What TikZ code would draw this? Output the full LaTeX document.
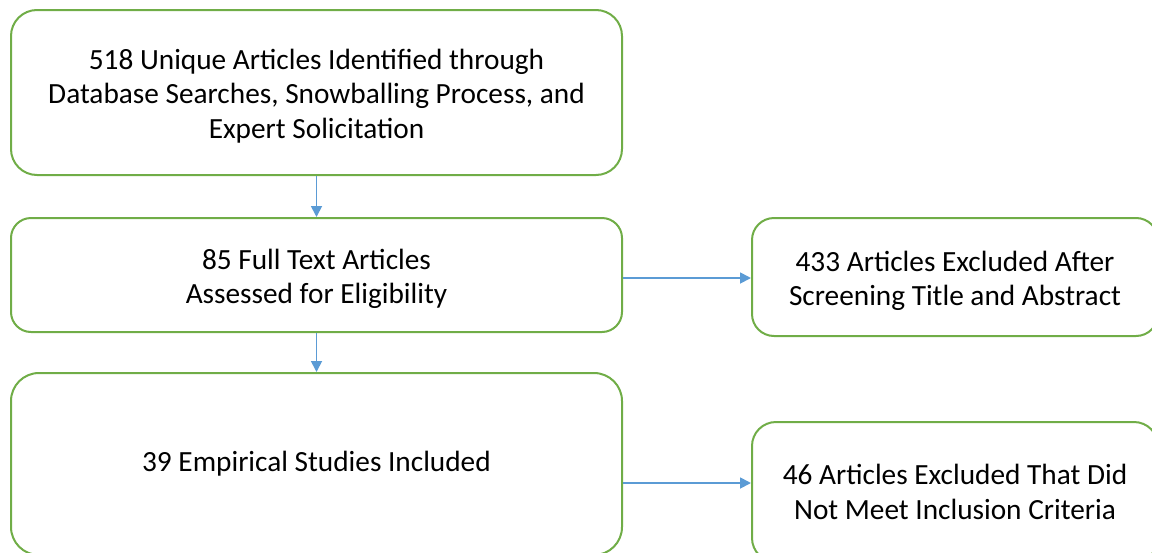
\documentclass[tikz,border=0pt]{standalone}
\usepackage{fontspec}
\setmainfont{Carlito}
\usetikzlibrary{arrows.meta}
\definecolor{boxgreen}{HTML}{70AD47}
\definecolor{arrblue}{HTML}{5B9BD5}
\newcommand\liftdown[1]{\rule{0pt}{\dimexpr\fontcharht\font`A+#1\relax}}
\begin{document}
\begin{tikzpicture}[x=1pt,y=-1pt,
  box/.style={draw=boxgreen,line width=2pt,align=center,inner sep=0pt,
    font=\fontsize{29.3}{34.5}\selectfont},
  arr/.style={draw=arrblue,line width=1.8pt,-{Triangle[length=11pt,width=11pt]}}]
\useasboundingbox (0,0) rectangle (1152,552);
\node[box,rounded corners=26pt,minimum width=611pt,minimum height=165pt] (b1) at (316.5,92.5)
  {\liftdown{8pt}518 Unique Articles Identified through\\Database Searches, Snowballing Process, and\\Expert Solicitation};
\node[box,rounded corners=20pt,minimum width=611pt,minimum height=114pt] (b2) at (316.5,275)
  {\liftdown{9pt}85 Full Text Articles\\Assessed for Eligibility};
\node[box,rounded corners=28pt,minimum width=611pt,minimum height=182pt] (b3) at (316.5,464)
  {39 Empirical Studies Included};
\node[box,rounded corners=22pt,minimum width=406pt,minimum height=118pt] (b4) at (955,277)
  {\liftdown{9pt}433 Articles Excluded After\\Screening Title and Abstract};
\node[box,rounded corners=24pt,minimum width=406pt,minimum height=140pt] (b5) at (955,492)
  {46 Articles Excluded That Did\\Not Meet Inclusion Criteria};
\draw[arr] (b1.south) -- (b2.north);
\draw[arr] (b2.south) -- (b3.north);
\draw[arr] (b2.east |- {0,278}) -- (b4.west |- {0,278});
\draw[arr] (b3.east |- {0,483}) -- (b5.west |- {0,483});
\end{tikzpicture}
\end{document}
